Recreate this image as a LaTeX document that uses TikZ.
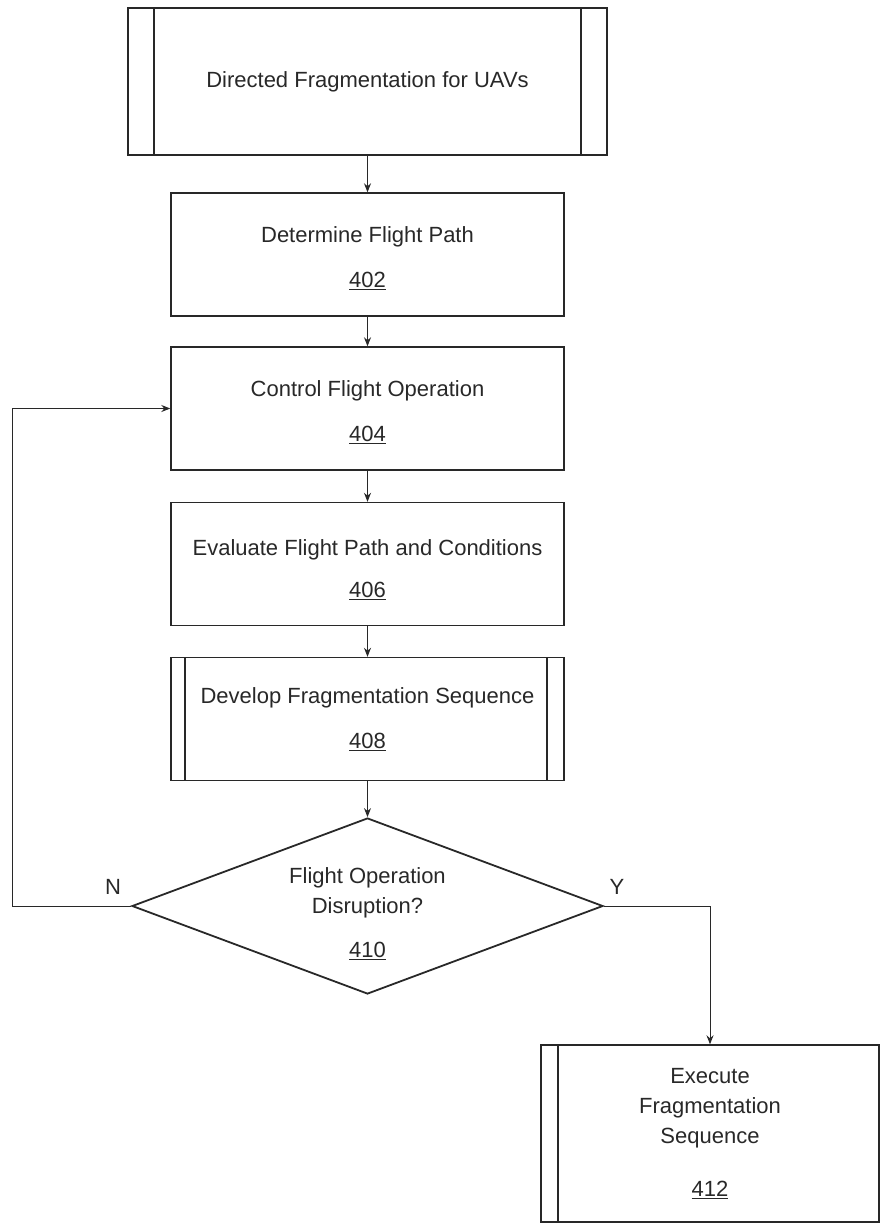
\documentclass[tikz,border=0pt]{standalone}
\usepackage{fontspec}
\setmainfont{Liberation Sans}
\usetikzlibrary{arrows.meta, positioning, shapes.geometric}
\definecolor{inkgray}{RGB}{40,40,40}

\tikzset{
  procbox/.style={rectangle, draw=inkgray, line width=1.4pt, minimum width=393pt, minimum height=123pt, align=center, inner sep=0pt},
  sidebars/.style 2 args={path picture={
      \draw[inkgray, line width=1.4pt] ([xshift=#1]path picture bounding box.north west) -- ([xshift=#1]path picture bounding box.south west);
      \draw[inkgray, line width=1.4pt] ([xshift=-#2]path picture bounding box.north east) -- ([xshift=-#2]path picture bounding box.south east);}},
  decision/.style={diamond, draw=inkgray, line width=1.8pt, aspect=2.68, minimum width=471pt, minimum height=176pt, align=center, inner sep=0pt},
  flow/.style={draw=inkgray, line width=1pt, -{Stealth[length=9pt,width=7pt]}},
}

\begin{document}
\begin{tikzpicture}[x=1pt, y=-1pt, text=inkgray, font=\fontsize{22}{30}\selectfont]
    \useasboundingbox (0,0) rectangle (881,1226);

    % main column
    \node[procbox, sidebars={26pt}{26pt}, minimum width=479pt, minimum height=147pt] (start) at (367.5,81.5) {Directed Fragmentation for UAVs};
    \node[procbox, text height=69pt] (path) at (367.5,254.5) {Determine Flight Path\\[15pt]\underline{402}};
    \node[procbox, text height=68pt] (control) at (367.5,408.5) {Control Flight Operation\\[15pt]\underline{404}};
    \node[procbox, text height=70pt] (evaluate) at (367.5,564) {Evaluate Flight Path and Conditions\\[12pt]\underline{406}};
    \node[procbox, sidebars={14pt}{17pt}] (develop) at (367.5,719) {Develop Fragmentation Sequence\\[15pt]\underline{408}};
    \node[decision, text height=106pt] (disrupt) at (367.5,906) {Flight Operation\\Disruption?\\[14pt]\underline{410}};

    % yes branch
    \node[procbox, sidebars={17pt}{0pt}, minimum width=338pt, minimum height=177pt] (execute) at (710,1133.5) {Execute\\Fragmentation\\Sequence\\[23pt]\underline{412}};

    \draw[flow] (start.south) -- (path.north);
    \draw[flow] (path.south) -- (control.north);
    \draw[flow] (control.south) -- (evaluate.north);
    \draw[flow] (evaluate.south) -- (develop.north);
    \draw[flow] (develop.south) -- (disrupt.north);

    % loop back on N
    \coordinate (back) at (12,906);
    \draw[flow] (disrupt.west) -- (back) |- (control.west);
    \draw[flow] (disrupt.east) -| (execute.north);

    \node (no) at (113,887) {N};
    \node (yes) at (617,887) {Y};
\end{tikzpicture}
\end{document}
